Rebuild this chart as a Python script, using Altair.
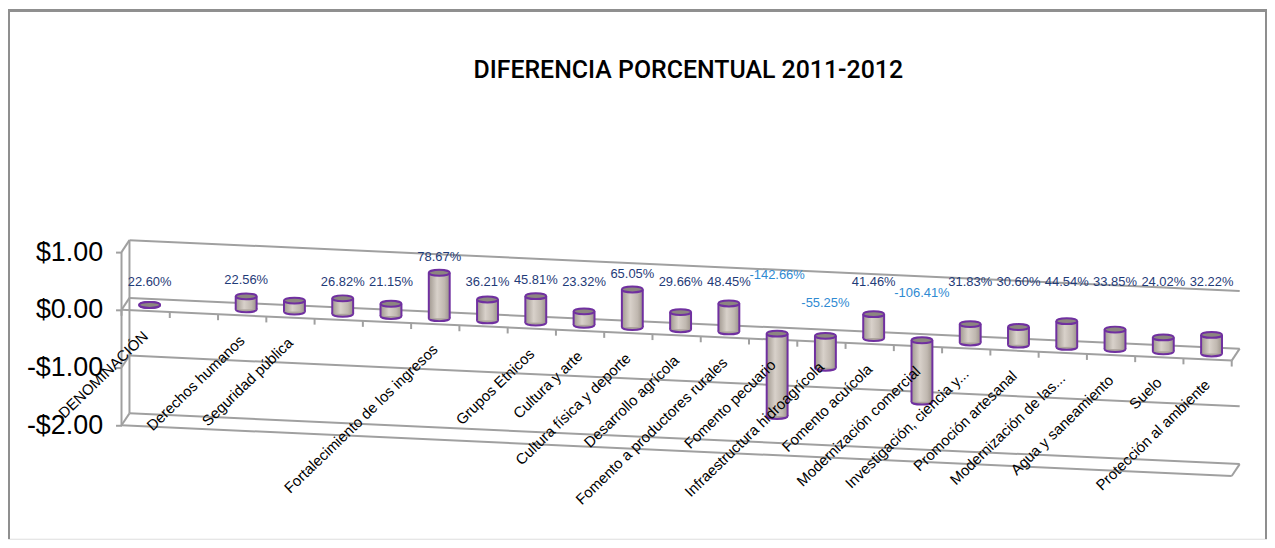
import altair as alt
import pandas as pd

# ---------------- data ----------------
categories = [
    "DENOMINACIÓN", "", "Derechos humanos", "Seguridad pública", "", "",
    "Fortalecimiento de los ingresos", "", "Grupos Etnicos", "Cultura y arte",
    "Cultura física y deporte", "Desarrollo agrícola", "Fomento a productores rurales",
    "Fomento pecuario", "Infraestructura hidroagrícola", "Fomento acuícola",
    "Modernización comercial", "Investigación, ciencia y...", "Promoción artesanal",
    "Modernización de las...", "Agua y saneamiento", "Suelo", "Protección al ambiente",
]
values = [
    0.0, None, 0.2256, 0.19, 0.2682, 0.2115, 0.7867, 0.3621, 0.4581, 0.2332,
    0.6505, 0.2966, 0.4845, -1.4266, -0.5525, 0.4146, -1.0641, 0.3183, 0.3060,
    0.4454, 0.3385, 0.2402, 0.3222,
]
value_labels = [
    "22.60%", "", "22.56%", "", "26.82%", "21.15%", "78.67%", "36.21%", "45.81%",
    "23.32%", "65.05%", "29.66%", "48.45%", "-142.66%", "-55.25%", "41.46%",
    "-106.41%", "31.83%", "30.60%", "44.54%", "33.85%", "24.02%", "32.22%",
]
y_ticks = [1, 0, -1, -2]
title_text = "DIFERENCIA PORCENTUAL 2011-2012"

# ---------------- layout (pixels) ----------------
W, H = 1265, 532
CAT_PX = 48.5          # width of one category along the floor
UNIT_PX = 58.0         # pixels per $1.00
SLOPE_PX = 2.217       # perspective drop of the floor per category
DEPTH_X, DEPTH_Y = 8.0, 12.0   # offset of back wall against front edge
X0_PX = 142.3          # first category centre (mid depth)
ZERO_PX = 302.0        # $0.00 at the front-left corner
CYL_W = 21.0           # cylinder diameter
LABEL_FLAT_PX = 274.0  # common height of the value labels
CAT_LABEL_GAP = 23.0   # category labels below the floor edge

N = len(categories)
xs = alt.Scale(domain=[-X0_PX / CAT_PX, (W - X0_PX) / CAT_PX], nice=False, zero=False)
ys = alt.Scale(domain=[(ZERO_PX - H) / UNIT_PX, ZERO_PX / UNIT_PX], nice=False, zero=False)

yaxis = alt.Axis(
    values=y_ticks, title=None, grid=False, domain=False,
    offset=-(X0_PX - 0.5 * CAT_PX - 0.5 * DEPTH_X),
    tickColor="#a0a0a0", tickWidth=2, tickSize=6,
    labelFont="Liberation Sans", labelFontSize=27, labelColor="black", labelPadding=13,
    labelExpr="(datum.value < 0 ? '-$' : '$') + format(abs(datum.value), '.2f')",
)


def proj(i_d, d, v):
    """category position i_d, depth d (0 front .. 1 back), value v -> scale units"""
    x = i_d + (d - 0.5) * DEPTH_X / CAT_PX
    y = v + (DEPTH_Y * d - SLOPE_PX * (i_d + 0.5)) / UNIT_PX
    return x, y


# ---------------- 3-D frame derived from ticks / categories ----------------
segs = []
first, last = -0.5, N - 0.5
vmax, vmin = max(y_ticks), min(y_ticks)
for v in y_ticks:
    segs.append(proj(first, 1, v) + proj(last, 1, v))      # back-wall gridline
    segs.append(proj(first, 0, v) + proj(first, 1, v))     # left wall diagonal
segs.append(proj(first, 1, vmax) + proj(first, 1, vmin))    # back-left edge
segs.append(proj(first, 0, vmax) + proj(first, 0, vmin))    # front-left edge (axis)
for v in (0, vmin):                                          # floors
    segs.append(proj(first, 0, v) + proj(last, 0, v))
    segs.append(proj(last, 0, v) + proj(last, 1, v))
for k in range(N + 1):                                       # category ticks
    segs.append(proj(k - 0.5, 0, 0) + proj(k - 0.5, 0, -6 / UNIT_PX))
frame = pd.DataFrame(segs, columns=["x", "y", "x2", "y2"])

FRAME_COL = "#a0a0a0"
PURPLE = "#7030a0"
ELLIPSE = ("M -1 0 C -1 -0.155 -0.552 -0.28 0 -0.28 C 0.552 -0.28 1 -0.155 1 0 "
           "C 1 0.155 0.552 0.28 0 0.28 C -0.552 0.28 -1 0.155 -1 0 Z")

frame_layer = alt.Chart(frame).mark_rule(color=FRAME_COL, strokeWidth=2).encode(
    x=alt.X("x:Q", scale=xs, axis=None),
    y=alt.Y("y:Q", scale=ys, axis=yaxis),
    x2="x2:Q", y2="y2:Q",
)

bars = pd.DataFrame({"i": list(range(N)), "cat": categories, "value": values,
                     "label": value_labels})

mz = f"(({DEPTH_Y * 0.5}) - {SLOPE_PX} * (datum.i + 0.5)) / {UNIT_PX}"
half = CYL_W / 2 / CAT_PX
base = alt.Chart(bars).transform_calculate(
    mz=mz,
).transform_calculate(
    top="datum.mz + max(datum.value, 0)",
    bot="datum.mz + min(datum.value, 0)",
    xl=f"datum.i - {half}",
    xr=f"datum.i + {half}",
)
cyl = base.transform_filter("isValid(datum.value)")

body_grad = alt.Gradient(
    gradient="linear", x1=0, x2=1, y1=0, y2=0,
    stops=[alt.GradientStop(color="#a0988f", offset=0),
           alt.GradientStop(color="#d8d1ca", offset=0.4),
           alt.GradientStop(color="#c0b8b0", offset=0.75),
           alt.GradientStop(color="#9a9289", offset=1)],
)

bottom_cap = cyl.mark_point(shape=ELLIPSE, size=CYL_W ** 2, filled=True, fill="#aca49c",
                            stroke=PURPLE, strokeWidth=2, opacity=1).encode(
    x=alt.X("i:Q", scale=xs, axis=None), y=alt.Y("bot:Q", scale=ys, axis=yaxis))
body = cyl.mark_rect(color=body_grad).encode(
    x=alt.X("xl:Q", scale=xs, axis=None), x2="xr:Q",
    y=alt.Y("top:Q", scale=ys, axis=yaxis), y2="bot:Q")
edge_l = cyl.mark_rule(color=PURPLE, strokeWidth=2).encode(
    x=alt.X("xl:Q", scale=xs, axis=None), y=alt.Y("top:Q", scale=ys, axis=yaxis), y2="bot:Q")
edge_r = cyl.mark_rule(color=PURPLE, strokeWidth=2).encode(
    x=alt.X("xr:Q", scale=xs, axis=None), y=alt.Y("top:Q", scale=ys, axis=yaxis), y2="bot:Q")
top_cap = cyl.mark_point(shape=ELLIPSE, size=CYL_W ** 2, filled=True, fill="#8c8680",
                         stroke=PURPLE, strokeWidth=2, opacity=1).encode(
    x=alt.X("i:Q", scale=xs, axis=None), y=alt.Y("top:Q", scale=ys, axis=yaxis))

flat = (ZERO_PX - LABEL_FLAT_PX) / UNIT_PX
vlabels = cyl.transform_filter("datum.label != ''").transform_calculate(
    ly=(f"datum.value >= 0 ? max({flat}, datum.top + 16 / {UNIT_PX}) "
        f": datum.mz + (16 + 30 * abs(datum.value)) / {UNIT_PX}")
).mark_text(font="Liberation Sans", fontSize=13, baseline="middle", align="center").encode(
    x=alt.X("i:Q", scale=xs, axis=None),
    y=alt.Y("ly:Q", scale=ys, axis=yaxis),
    text="label:N",
    color=alt.condition("datum.value < 0", alt.value("#2f8ad2"), alt.value("#1f3b78")),
)

clabels = base.transform_filter("datum.cat != ''").transform_calculate(
    cx=f"datum.i - {0.5 * DEPTH_X / CAT_PX}",
    cy=f"(-{SLOPE_PX} * (datum.i + 0.5) - {CAT_LABEL_GAP}) / {UNIT_PX}",
).mark_text(font="Liberation Sans", fontSize=15, angle=316, align="right",
            baseline="middle", color="black").encode(
    x=alt.X("cx:Q", scale=xs, axis=None),
    y=alt.Y("cy:Q", scale=ys, axis=yaxis),
    text="cat:N",
)

BORDER = "#8f8f8f"
border_l = alt.Chart(bars).mark_rule(color=BORDER, strokeWidth=2).encode(
    x=alt.value(1), y=alt.value(0), y2=alt.value(H))
border_t = alt.Chart(bars).mark_rule(color=BORDER, strokeWidth=2).encode(
    x=alt.value(0), x2=alt.value(W), y=alt.value(1))
border_r = alt.Chart(bars).mark_rule(color=BORDER, strokeWidth=2).encode(
    x=alt.value(W - 1), y=alt.value(0), y2=alt.value(H))

chart = alt.layer(
    border_l, border_t, border_r,
    frame_layer, bottom_cap, body, edge_l, edge_r, top_cap, vlabels, clabels,
).properties(
    width=W, height=H, padding=0, autosize=alt.AutoSizeParams(type="none"),
    title=alt.TitleParams(text=title_text, font="Roboto", fontSize=25, fontWeight=500,
                          color="black", anchor="middle", frame="group", offset=-70,
                          baseline="alphabetic", dx=51, dy=25),
).configure_view(strokeWidth=0).configure(background="white")

chart.save("out.html", embed_options={"renderer": "svg", "actions": False})
